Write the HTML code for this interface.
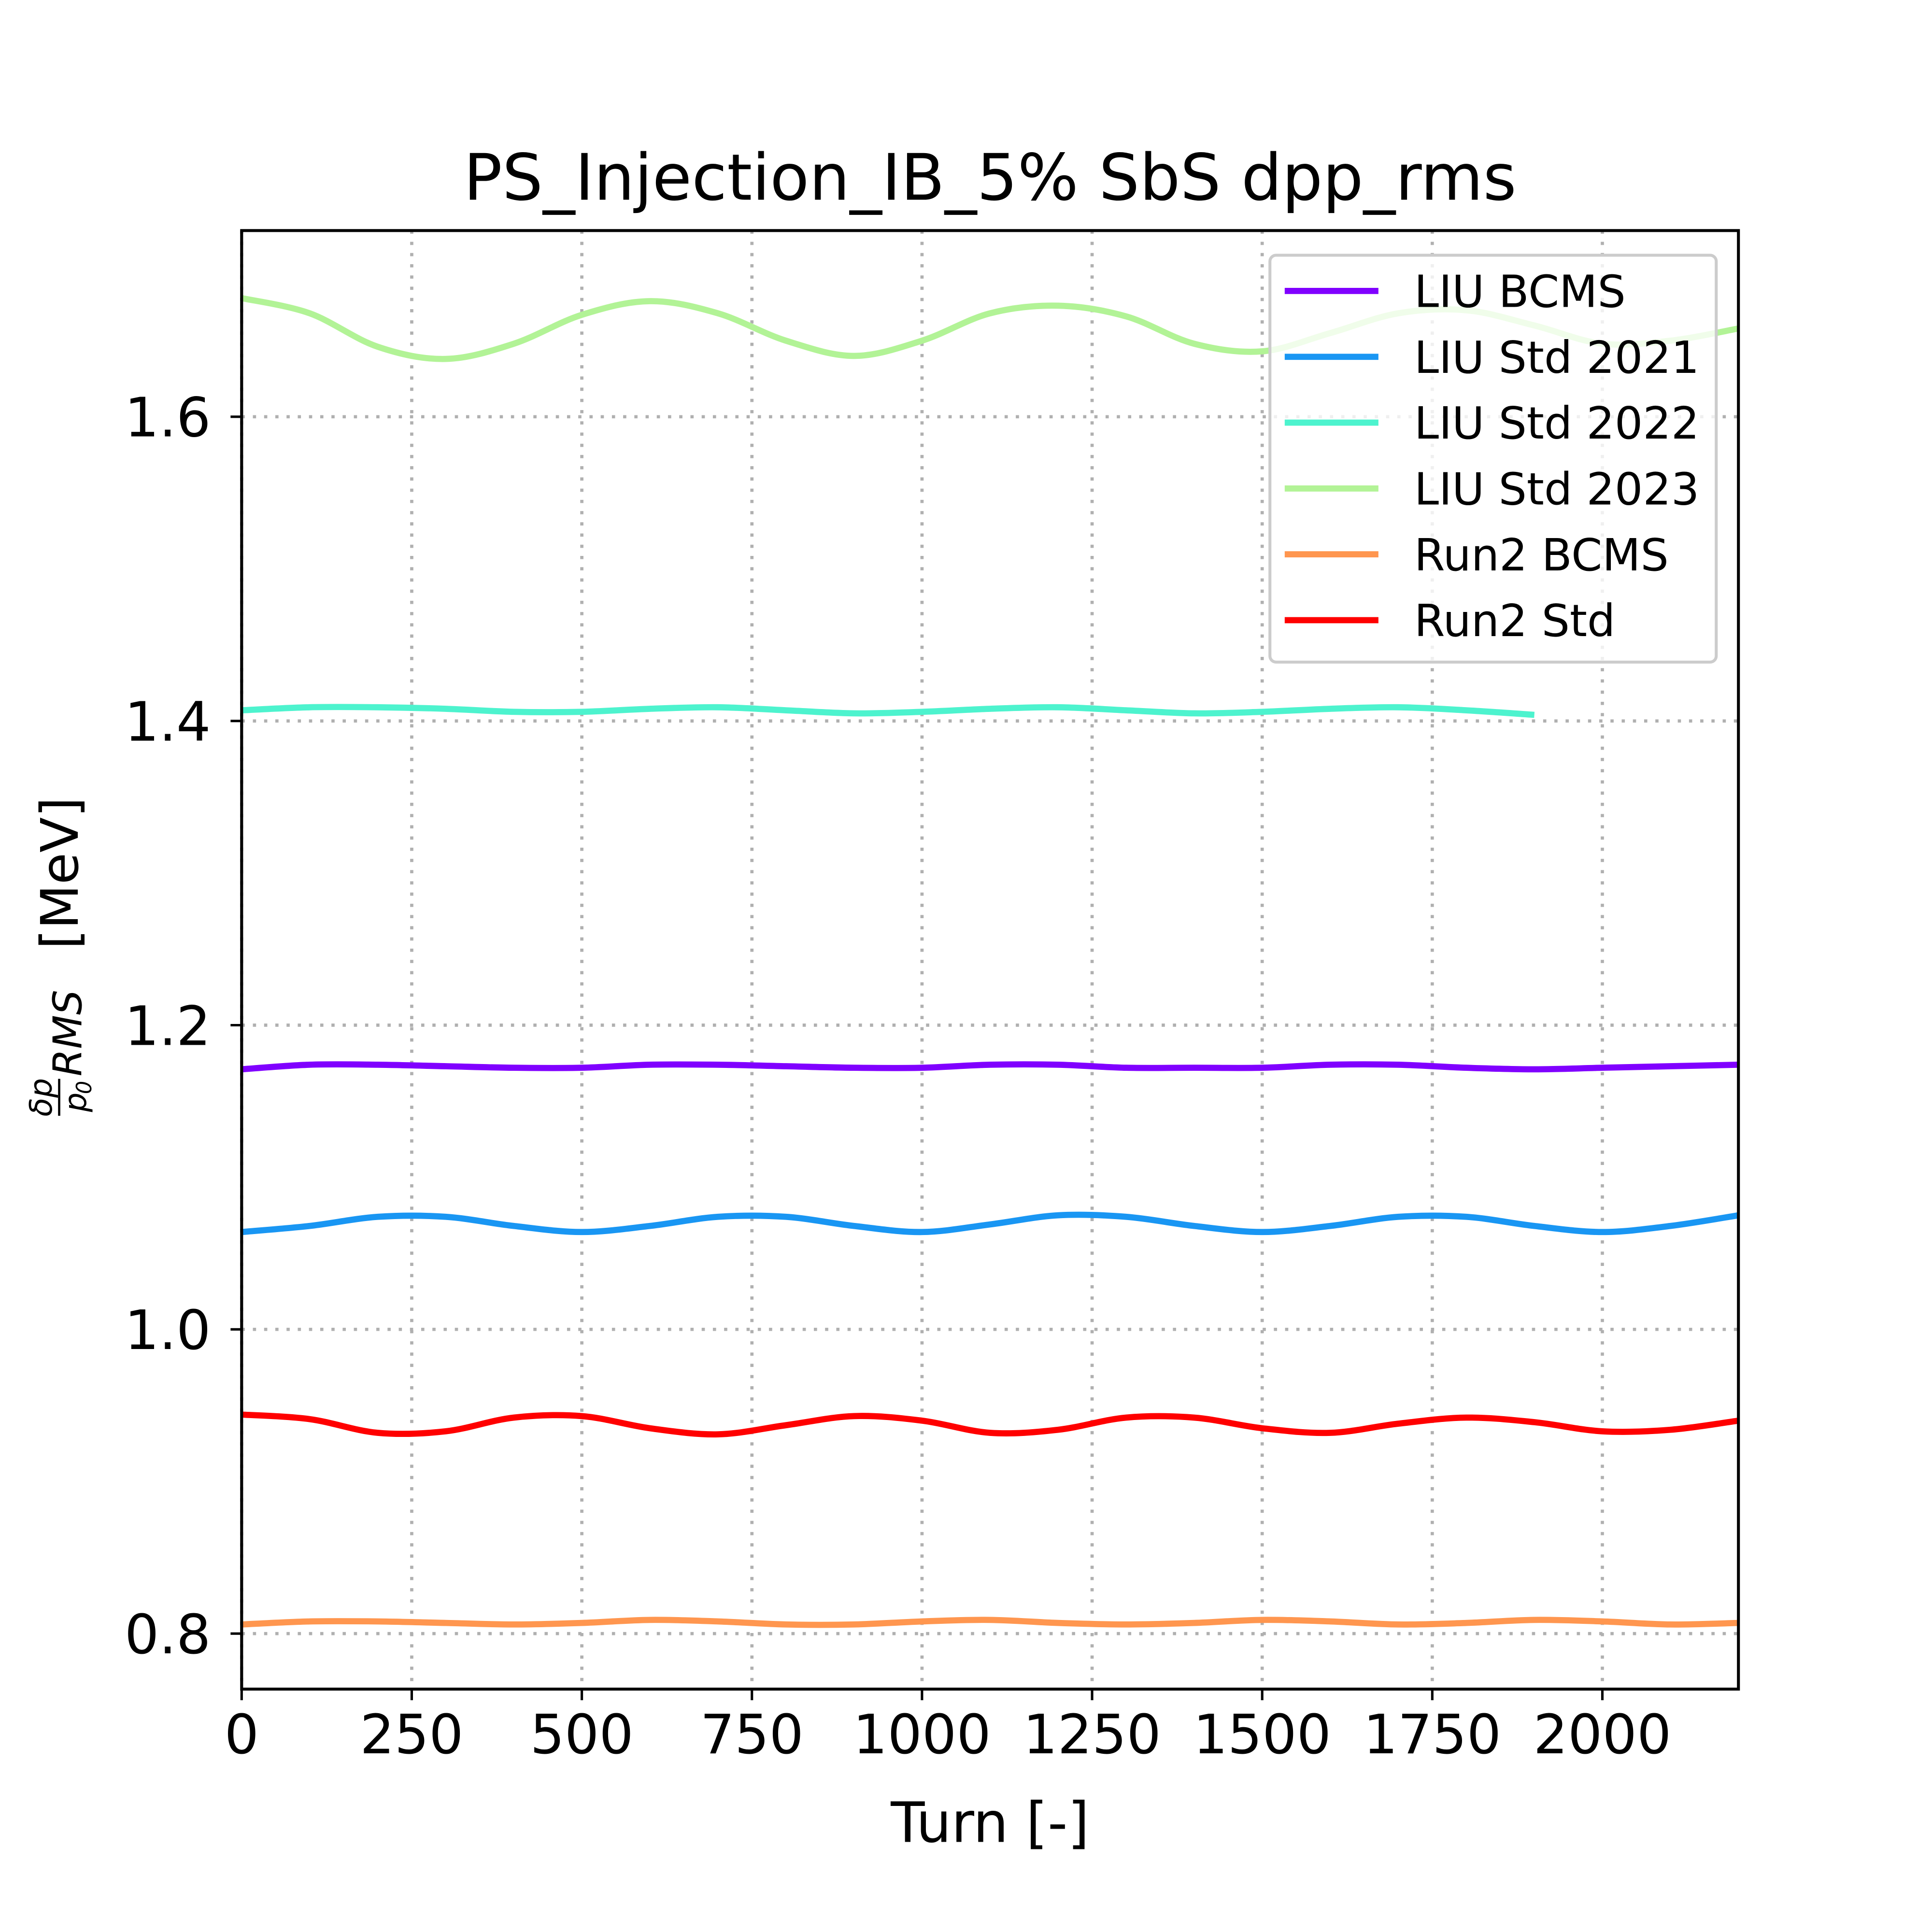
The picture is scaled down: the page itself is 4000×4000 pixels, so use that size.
<!DOCTYPE html>
<html><head><meta charset="utf-8">
<style>
html,body{margin:0;padding:0;background:#fff;}
svg{display:block;}
text{font-family:"DejaVu Sans","Liberation Sans",sans-serif;fill:#000;}
</style></head>
<body>
<svg id="chart" width="4000" height="4000" viewBox="0 0 1567 1567" xmlns="http://www.w3.org/2000/svg">
<rect x="0" y="0" width="1567" height="1567" fill="#fff"/>
<g id="grid"></g>
<g id="series"></g>
<rect x="196" y="187" width="1214" height="1183" fill="none" stroke="#000" stroke-width="2.4"/>
<g id="ticks"></g>
<text x="803" y="162" font-size="52" text-anchor="middle">PS_Injection_IB_5% SbS dpp_rms</text>
<text x="803" y="1494" font-size="45" text-anchor="middle">Turn [-]</text>
<g transform="translate(58,780) rotate(-90)">
  <text x="-110" y="-16" font-size="25" font-style="italic" text-anchor="middle">δp</text>
  <line x1="-125" y1="-10" x2="-95" y2="-10" stroke="#000" stroke-width="1.8"/>
  <text x="-114" y="12" font-size="25" font-style="italic" text-anchor="middle">p</text>
  <text x="-102" y="16" font-size="17" font-style="italic" text-anchor="middle">0</text>
  <text x="-93" y="8" font-size="32" font-style="italic">RMS</text>
  <text x="10" y="5" font-size="42">[MeV]</text>
</g>
<g id="legend"></g>
</svg>
<script>
const turns = [0,100,200,300,400,500,600,700,800,900,1000,1100,1200,1300,1400,1500,1600,1700,1800,1900,2000,2100,2200];
const seriesNames = ["LIU BCMS","LIU Std 2021","LIU Std 2022","LIU Std 2023","Run2 BCMS","Run2 Std"];
const liuBcms = [1.171,1.174,1.174,1.173,1.172,1.172,1.174,1.174,1.173,1.172,1.172,1.174,1.174,1.172,1.172,1.172,1.174,1.174,1.172,1.171,1.172,1.173,1.174];
const liuStd2021 = [1.064,1.068,1.074,1.074,1.068,1.064,1.068,1.074,1.074,1.068,1.064,1.069,1.075,1.074,1.068,1.064,1.068,1.074,1.074,1.068,1.064,1.068,1.075];
const liuStd2022 = [1.407,1.409,1.409,1.408,1.406,1.406,1.408,1.409,1.407,1.405,1.406,1.408,1.409,1.407,1.405,1.406,1.408,1.409,1.407,1.404];
const liuStd2023 = [1.678,1.668,1.646,1.638,1.648,1.667,1.676,1.668,1.650,1.640,1.650,1.668,1.673,1.666,1.648,1.643,1.655,1.668,1.670,1.660,1.648,1.650,1.658];
const run2Bcms = [0.806,0.808,0.808,0.807,0.806,0.807,0.809,0.808,0.806,0.806,0.808,0.809,0.807,0.806,0.807,0.809,0.808,0.806,0.807,0.809,0.808,0.806,0.807];
const run2Std = [0.944,0.941,0.932,0.933,0.942,0.943,0.935,0.931,0.937,0.943,0.940,0.932,0.934,0.942,0.942,0.935,0.932,0.938,0.942,0.939,0.933,0.934,0.940];
const xTicks = [0,250,500,750,1000,1250,1500,1750,2000];
const yTicks = [0.8,1.0,1.2,1.4,1.6];
const yTickLabels = ["0.8","1.0","1.2","1.4","1.6"];

const colors = ["#8000ff","#1996f3","#4df3ce","#b2f396","#ff964f","#ff0000"];
const allSeries = [liuBcms,liuStd2021,liuStd2022,liuStd2023,run2Bcms,run2Std];
const L=196,R=1410,T=187,B=1370, X0=0,X1=2200, Y0=0.7635,Y1=1.7224;
const xs = v => L + (v-X0)/(X1-X0)*(R-L);
const ys = v => B - (v-Y0)/(Y1-Y0)*(B-T);
const NS="http://www.w3.org/2000/svg";
function mk(tag, attrs, parent){const e=document.createElementNS(NS,tag);for(const k in attrs)e.setAttribute(k,attrs[k]);parent.appendChild(e);return e;}

const grid=document.getElementById('grid'), ticks=document.getElementById('ticks');
xTicks.forEach(t=>{
  const x=xs(t);
  const g=mk('line',{x1:x,y1:T,x2:x,y2:B,stroke:'#b0b0b0','stroke-width':2.6,'stroke-dasharray':'2.6 6.5'},grid);
  
  
  const tk=mk('line',{x1:x,y1:B,x2:x,y2:B+9,stroke:'#000','stroke-width':2},ticks);
  
  
  const lb=mk('text',{x:x,y:B+52,'font-size':44,'text-anchor':'middle'},ticks);
  lb.textContent=String(t);
  
  
});
yTicks.forEach((t,i)=>{
  const y=ys(t);
  const g=mk('line',{x1:L,y1:y,x2:R,y2:y,stroke:'#b0b0b0','stroke-width':2.6,'stroke-dasharray':'2.6 6.5'},grid);
  
  
  const tk=mk('line',{x1:L-9,y1:y,x2:L,y2:y,stroke:'#000','stroke-width':2},ticks);
  
  
  const lb=mk('text',{x:L-25,y:y+16,'font-size':44,'text-anchor':'end'},ticks);
  lb.textContent=yTickLabels[i];
  
  
});

function smoothPath(vals){
  const p=vals.map((v,i)=>[xs(turns[i]),ys(v)]);
  let d=`M${p[0][0]},${p[0][1]}`;
  for(let i=0;i<p.length-1;i++){
    const p0=p[Math.max(i-1,0)],p1=p[i],p2=p[i+1],p3=p[Math.min(i+2,p.length-1)];
    const c1=[p1[0]+(p2[0]-p0[0])/6,p1[1]+(p2[1]-p0[1])/6];
    const c2=[p2[0]-(p3[0]-p1[0])/6,p2[1]-(p3[1]-p1[1])/6];
    d+=` C${c1[0]},${c1[1]} ${c2[0]},${c2[1]} ${p2[0]},${p2[1]}`;
  }
  return d;
}
const sg=document.getElementById('series');
allSeries.forEach((vals,i)=>{
  const path=mk('path',{d:smoothPath(vals),fill:'none',stroke:colors[i],'stroke-width':5,'stroke-linejoin':'round'},sg);
  
  
});

const lg=document.getElementById('legend');
const box=mk('rect',{x:1030,y:207,width:362,height:330,rx:5,fill:'#fff','fill-opacity':0.8,stroke:'#ccc','stroke-width':2.4},lg);


seriesNames.forEach((n,i)=>{
  const y=236+i*53.4;
  const ln=mk('line',{x1:1042,y1:y,x2:1118,y2:y,stroke:colors[i],'stroke-width':5},lg);
  
  
  const t=mk('text',{x:1147,y:y+13,'font-size':36},lg);
  t.textContent=n;
  
  
});
</script>
</body></html>
